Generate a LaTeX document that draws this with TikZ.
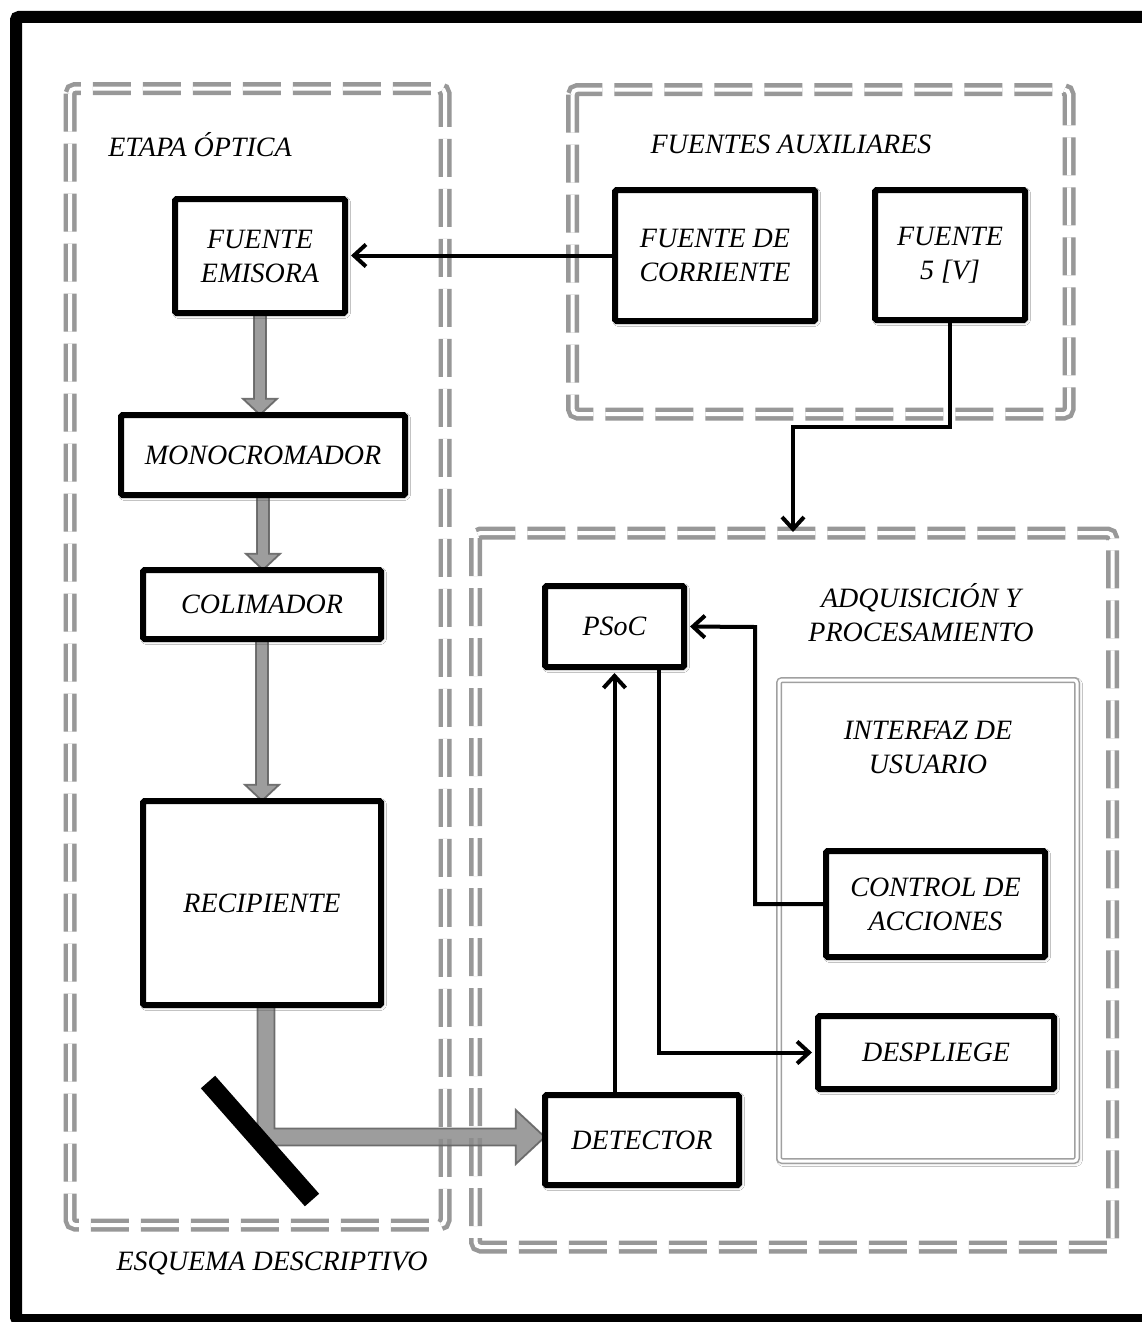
\documentclass[tikz,border=0pt]{standalone}
\usepackage{fontspec}
\setmainfont{Liberation Serif}
\usetikzlibrary{arrows.meta,calc,shadows.blur}
\definecolor{dashgray}{RGB}{152,152,152}
\definecolor{arrfill}{RGB}{140,140,140}
\definecolor{arredge}{RGB}{100,100,100}
\definecolor{boxgray}{RGB}{160,160,160}
\newcommand\gvarrow[5]{%
  \draw[garr] ($(#1.south)+(-#3,-2)$) -- ($(#1.south |- #2.north)+(-#3,-#5)$)
    -- ($(#1.south |- #2.north)+(-#4,-#5)$) -- (#1.south |- #2.north)
    -- ($(#1.south |- #2.north)+(#4,-#5)$) -- ($(#1.south |- #2.north)+(#3,-#5)$)
    -- ($(#1.south)+(#3,-2)$) -- cycle;}
\begin{document}
\begin{tikzpicture}[x=1pt,y=-1pt,
  txt/.style={font=\fontsize{28}{34}\selectfont\itshape, align=center},
  blk/.style={draw=black, line width=6pt, fill=white, rounded corners=1.5pt, txt, inner sep=0pt,
    blur shadow={shadow xshift=1.5pt, shadow yshift=-1.5pt, shadow blur radius=4pt, shadow opacity=30}},
  zone/.style={draw=dashgray, line width=4.5pt, double=white, double distance=4pt,
    dash pattern=on 38pt off 12pt, rounded corners=5pt},
  wire/.style={draw=black, line width=4pt, line join=miter},
  warrow/.style={wire, -{Straight Barb[length=12pt,width=22pt,line width=4pt]}, shorten >=3pt},
  garr/.style={fill=arrfill, draw=arredge, line width=1.8pt, fill opacity=0.85, draw opacity=0.9, line join=miter}
]
\useasboundingbox (0,0) rectangle (1142,1322);
\fill[white] (0,0) rectangle (1142,1322);
% outer frame
\draw[line width=12pt, rounded corners=3pt] (16,17) rectangle (1154,1320);

% zones
\draw[zone] (70,88.5) rectangle (445,1225);
\draw[zone] (572.5,89.5) rectangle (1069,414);
\draw[zone] (475.5,533) rectangle (1112.5,1247);

% interfaz box
\draw[boxgray, fill=white, line width=1.5pt, double=white, double distance=3pt, rounded corners=3pt,
  blur shadow={shadow xshift=1.5pt, shadow yshift=-1.5pt, shadow blur radius=4pt, shadow opacity=20}]
  (779,680) rectangle (1077,1161);

% labels
\node[txt, anchor=base] (tetapa) at (200,156) {ETAPA ÓPTICA};
\node[txt, anchor=base] (tfuentes) at (791,153) {FUENTES AUXILIARES};
\node[txt] (tadq) at (921,613) {ADQUISICIÓN Y\\PROCESAMIENTO};
\node[txt] (tinter) at (928,747) {INTERFAZ DE\\USUARIO};
\node[txt, anchor=base] (tesq) at (272,1270) {ESQUEMA DESCRIPTIVO};

% box positions (nodes defined first for anchors)
\path
  node[minimum width=170pt, minimum height=114pt] (emisora) at (260,256) {}
  node[minimum width=284pt, minimum height=80pt] (mono) at (263,455) {}
  node[minimum width=238pt, minimum height=69pt] (colim) at (262,604.5) {}
  node[minimum width=238pt, minimum height=204pt] (recip) at (262,903) {}
  node[minimum width=194pt, minimum height=90pt] (detector) at (642,1140) {};

% gray light arrows
\gvarrow{emisora}{mono}{6}{17}{16}
\gvarrow{mono}{colim}{6}{17}{16}
\gvarrow{colim}{recip}{6}{17}{16}
\coordinate (lstart) at ($(recip.south)+(4,-2)$);
\coordinate (lend) at ($(detector.west)+(0,-3)$);
\draw[garr] ($(lstart)+(-8.5,0)$) -- ($(lstart |- lend)+(-8.5,8.5)$) -- ($(lend)+(-29,8.5)$)
  -- ($(lend)+(-29,27)$) -- (lend) -- ($(lend)+(-29,-27)$) -- ($(lend)+(-29,-8.5)$)
  -- ($(lstart |- lend)+(8.5,-8.5)$) -- ($(lstart)+(8.5,0)$) -- cycle;

% mirror
\draw[line width=19pt] (208,1082) -- (312,1200);

% black boxes
\node[blk, minimum width=170pt, minimum height=114pt] (emisoraB) at (260,256) {FUENTE\\EMISORA};
\node[blk, minimum width=284pt, minimum height=80pt] (monoB) at (263,455) {MONOCROMADOR};
\node[blk, minimum width=238pt, minimum height=69pt] (colimB) at (262,604.5) {COLIMADOR};
\node[blk, minimum width=238pt, minimum height=204pt] (recipB) at (262,903) {RECIPIENTE};
\node[blk, minimum width=200pt, minimum height=131pt] (corriente) at (715,255.5) {FUENTE DE\\CORRIENTE};
\node[blk, minimum width=150pt, minimum height=130pt] (f5v) at (950,255) {FUENTE\\5 [V]};
\node[blk, minimum width=139pt, minimum height=81pt] (psoc) at (614.5,626.5) {PSoC};
\node[blk, minimum width=194pt, minimum height=90pt] (detectorB) at (642,1140) {DETECTOR};
\node[blk, minimum width=219pt, minimum height=106pt] (control) at (935.5,904) {CONTROL DE\\ACCIONES};
\node[blk, minimum width=236pt, minimum height=73pt] (desp) at (936,1052.5) {DESPLIEGE};

% wires
\draw[warrow] (corriente.west) -- (corriente.west -| emisoraB.east);
\coordinate (bend) at (793,427);
\coordinate (z3top) at (793,532);
\draw[warrow, shorten >=0pt] (f5v.south) |- (bend) -- (z3top);
\coordinate (cx) at (755,627);
\draw[warrow] (control.west) -| (cx) -- (psoc.east);
\draw[warrow] ($(psoc.south)+(44.5,0)$) |- (desp.west);
\draw[warrow] (psoc.south |- detectorB.north) -- (psoc.south);
\end{tikzpicture}
\end{document}
